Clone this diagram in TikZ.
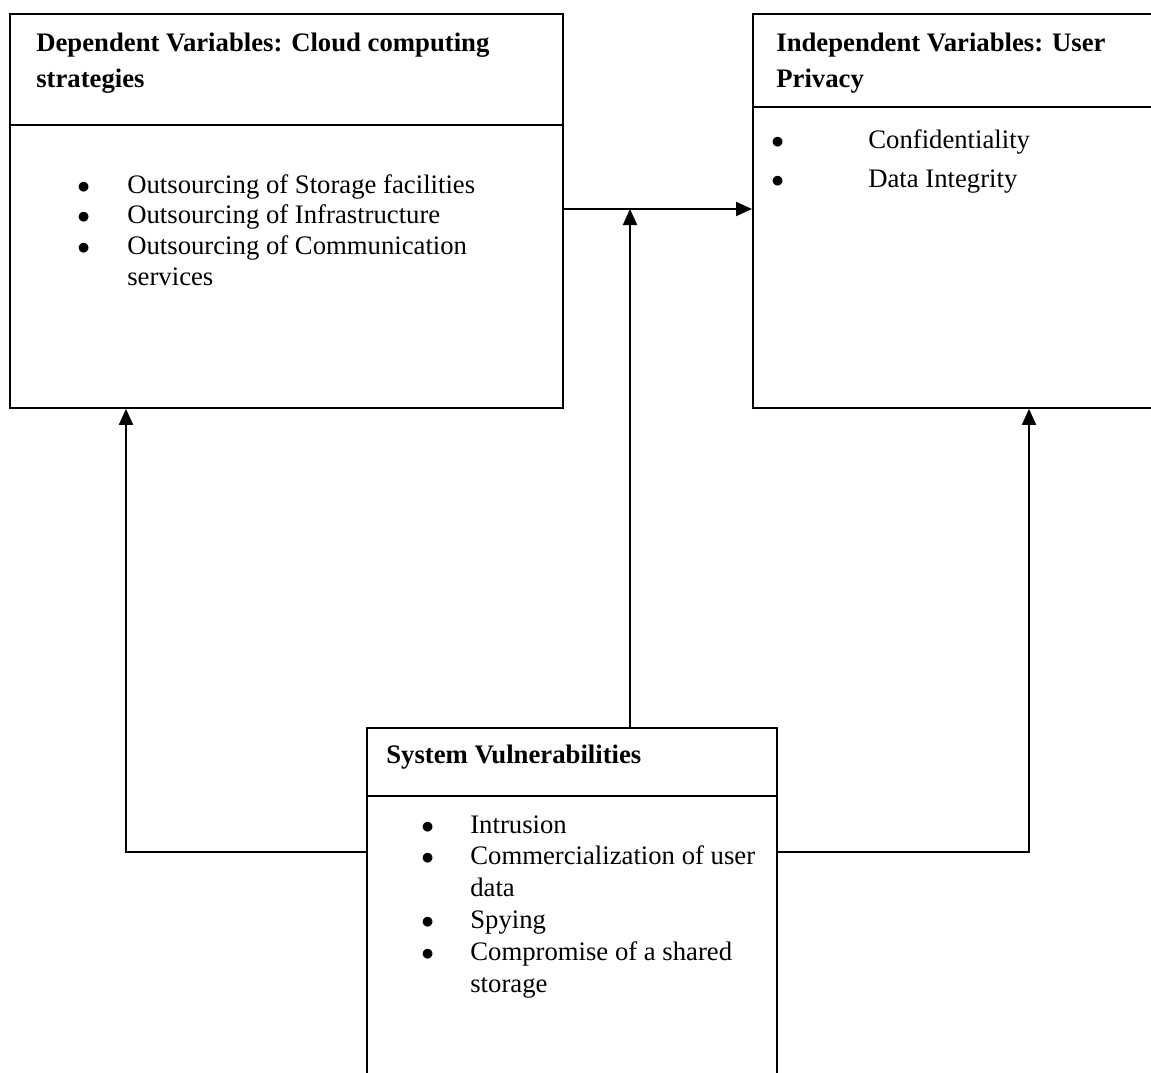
\documentclass[tikz,border=0pt]{standalone}
\usepackage{fontspec}
\setmainfont{Liberation Serif}
\usetikzlibrary{calc,arrows.meta}

\newcommand{\dotmark}{$\bullet$}

\begin{document}
\begin{tikzpicture}[x=0.02cm,y=-0.02cm,
    frame/.style={draw,line width=1.1pt,rectangle,anchor=north west,inner sep=0pt},
    rule/.style={line width=1.1pt},
    heading/.style={anchor=base west,inner sep=0pt,font=\fontsize{15.2}{20.5}\selectfont\bfseries},
    items/.style={anchor=base west,inner sep=0pt},
    link/.style={line width=1.1pt,-{Triangle[length=0.32cm,width=0.28cm]}}]
  \useasboundingbox (0,0) rectangle (1151,1072);
  \clip (0,0) rectangle (1151,1072);

  % the three boxes
  \node[frame,minimum width=11.06cm,minimum height=7.88cm] (dep) at (9,13) {};
  \node[frame,minimum width=9cm,minimum height=7.88cm] (ind) at (752,13) {};
  \node[frame,minimum width=8.2cm,minimum height=8cm] (sys) at (366,727) {};

  \coordinate (depcut) at (0,125);
  \coordinate (indcut) at (0,107);
  \coordinate (syscut) at (0,796);
  \draw[rule] (dep.west |- depcut) -- (dep.east |- depcut);
  \draw[rule] (ind.west |- indcut) -- (ind.east |- indcut);
  \draw[rule] (sys.west |- syscut) -- (sys.east |- syscut);

  % headings
  \node[heading] (deptitle) at (36,51) {\begin{tabular}[t]{@{}l@{}}Dependent Variables: Cloud computing\\strategies\end{tabular}};
  \node[heading] (indtitle) at (776,51) {\begin{tabular}[t]{@{}l@{}}Independent Variables: User\\Privacy\end{tabular}};
  \node[heading] (systitle) at (386,763) {System Vulnerabilities};

  % bullet lists
  \node[items,font=\fontsize{15.2}{17.6}\selectfont] (deplist) at (77,193) {%
    \begin{tabular}[t]{@{}p{1.0cm}@{}l@{}}
      \dotmark & Outsourcing of Storage facilities\\
      \dotmark & Outsourcing of Infrastructure\\
      \dotmark & Outsourcing of Communication\\
               & services
    \end{tabular}};
  \node[items,font=\fontsize{15.2}{22.2}\selectfont] (indlist) at (771,148) {%
    \begin{tabular}[t]{@{}p{1.94cm}@{}l@{}}
      \dotmark & Confidentiality\\
      \dotmark & Data Integrity
    \end{tabular}};
  \node[items,font=\fontsize{15.2}{18.2}\selectfont] (syslist) at (421,833) {%
    \begin{tabular}[t]{@{}p{0.98cm}@{}l@{}}
      \dotmark & Intrusion\\
      \dotmark & Commercialization of user\\
               & data\\
      \dotmark & Spying\\
      \dotmark & Compromise of a shared\\
               & storage
    \end{tabular}};

  % connectors
  \coordinate (mid) at (630,209);
  \coordinate (lft) at (126,852);
  \coordinate (rgt) at (1029,852);
  \draw[link] (dep.east |- mid) -- (ind.west |- mid);
  \draw[link] (sys.north -| mid) -- (mid);
  \draw[link] (sys.west |- lft) -- (lft) -- (lft |- dep.south);
  \draw[link] (sys.east |- rgt) -- (rgt) -- (rgt |- ind.south);
\end{tikzpicture}
\end{document}
